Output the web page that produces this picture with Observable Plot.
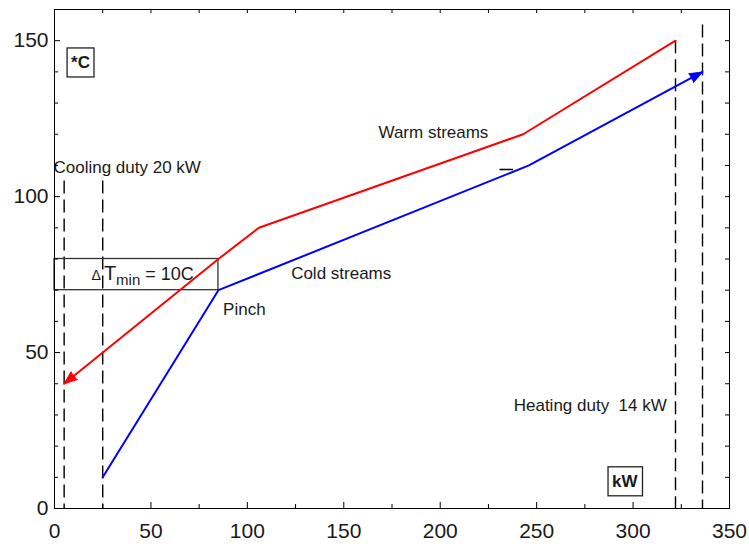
<!DOCTYPE html>
<html>
<head>
<meta charset="utf-8">
<script src="https://cdn.jsdelivr.net/npm/d3@7"></script>
<script src="https://cdn.jsdelivr.net/npm/@observablehq/plot@0.6"></script>
<style>
  body { margin: 0; background: #fff; }
  #chart svg { display: block; }
</style>
</head>
<body>
<div id="chart"></div>
<script>
// Hot composite curve (duty kW, temperature °C), drawn from the hot end down
const hotDuty = [322, 243, 106, 85, 5];
const hotTemp = [150, 120, 90, 80, 40];

// Cold composite curve (duty kW, temperature °C), drawn from the cold end up
const coldDuty = [25, 85, 246, 336];
const coldTemp = [10, 70, 110, 140];

// Pinch: index of the pinch point in each curve
const hotPinchIndex = 3;
const coldPinchIndex = 1;

// Utility boundaries (duty kW) and how far up each dashed guide reaches (°C)
const utilityDuty = [5, 25, 322, 336];
const utilityTop = [105, 105, 150, 155];

// Small leader stroke near the cold curve
const leaderX = [231, 238];
const leaderY = [108.7, 108.7];

// Tick values
const xTickLabels = [0, 50, 100, 150, 200, 250, 300, 350];
const yTickLabels = [0, 50, 100, 150];
const xTicks = d3.range(0, 351, 25);
const yTicks = d3.range(0, 161, 10);

// Label text
const warmLabel = "Warm streams";
const coldLabel = "Cold streams";
const pinchLabel = "Pinch";
const coolingLabel = `Cooling duty ${utilityDuty[1] - utilityDuty[0]} kW`;
const heatingLabel = `Heating duty  ${utilityDuty[3] - utilityDuty[2]} kW`;
const tempUnit = "*C";
const dutyUnit = "kW";

const hot = hotDuty.map((d, i) => ({duty: d, temp: hotTemp[i]}));
const cold = coldDuty.map((d, i) => ({duty: d, temp: coldTemp[i]}));
const utilities = utilityDuty.map((d, i) => ({duty: d, top: utilityTop[i]}));
const leader = [{x1: leaderX[0], x2: leaderX[1], y: leaderY[0]}];
const pinchBox = [{
  x1: 0,
  x2: hot[hotPinchIndex].duty,
  y1: cold[coldPinchIndex].temp,
  y2: hot[hotPinchIndex].temp
}];
const dTmin = hot[hotPinchIndex].temp - cold[coldPinchIndex].temp;
const dTminLabel = `ΔTmin = ${dTmin}C`;

const W = 749, H = 550;
const M = {top: 9, right: 20, bottom: 42, left: 54};
const innerW = W - M.left - M.right;
const innerH = H - M.top - M.bottom;
const FONT = "'Liberation Sans', Arial, sans-serif";
const INK = "#1a1a1a";

function tickMarks(len50, len) {
  const major = v => v % 50 === 0;
  const xs = [xTicks.filter(major), xTicks.filter(v => !major(v))];
  const ys = [yTicks.filter(major), yTicks.filter(v => !major(v))];
  const lens = [len50, len];
  const out = [];
  xs.forEach((vals, k) => {
    out.push(Plot.tickX(vals, {x: d => d, stroke: "black", insetTop: innerH - lens[k]}));
    out.push(Plot.tickX(vals, {x: d => d, stroke: "black", insetBottom: innerH - 4}));
  });
  ys.forEach((vals, k) => {
    out.push(Plot.tickY(vals, {y: d => d, stroke: "black", insetRight: innerW - lens[k]}));
    out.push(Plot.tickY(vals, {y: d => d, stroke: "black", insetLeft: innerW - 4}));
  });
  return out;
}

function build(hotAngle, coldAngle) {
  const hotEnd = hot[hot.length - 1];
  const coldEnd = cold[cold.length - 1];
  return Plot.plot({
    width: W,
    height: H,
    marginTop: M.top,
    marginRight: M.right,
    marginBottom: M.bottom,
    marginLeft: M.left,
    style: {fontFamily: FONT, color: INK, background: "#fff", overflow: "visible"},
    x: {domain: [0, 350], label: null},
    y: {domain: [0, 160], label: null},
    marks: [
      // dashed utility guides
      Plot.ruleX(utilities, {x: "duty", y1: "top", y2: 0, stroke: "black", strokeWidth: 1.4, strokeDasharray: "13,6"}),
      // ΔTmin box between the curves at the pinch
      Plot.rect(pinchBox, {x1: "x1", x2: "x2", y1: "y1", y2: "y2", fill: "none", stroke: "#333", strokeWidth: 1.3}),
      // composite curves
      Plot.line(hot, {x: "duty", y: "temp", stroke: "#ff0000", strokeWidth: 2}),
      Plot.line(cold, {x: "duty", y: "temp", stroke: "#0000ff", strokeWidth: 2}),
      Plot.vector([hotEnd], {x: "duty", y: "temp", rotate: hotAngle, length: 13, r: 5, shape: "spike", anchor: "end", fill: "#ff0000", stroke: "#ff0000", strokeWidth: 1}),
      Plot.vector([coldEnd], {x: "duty", y: "temp", rotate: coldAngle, length: 13, r: 5, shape: "spike", anchor: "end", fill: "#0000ff", stroke: "#0000ff", strokeWidth: 1}),
      Plot.ruleY(leader, {y: "y", x1: "x1", x2: "x2", stroke: "black", strokeWidth: 1.5}),
      // annotations
      Plot.text([warmLabel], {x: 168, y: 120.6, text: d => d, textAnchor: "start", fontSize: 17, fill: INK}),
      Plot.text([coldLabel], {x: 122.7, y: 75.4, text: d => d, textAnchor: "start", fontSize: 17, fill: INK}),
      Plot.text([pinchLabel], {x: 87.4, y: 63.9, text: d => d, textAnchor: "start", fontSize: 17, fill: INK}),
      Plot.text([coolingLabel], {x: 0, dx: -1, y: 109.2, text: d => d, textAnchor: "start", fontSize: 17, fill: INK}),
      Plot.text([heatingLabel], {x: 238.1, y: 32.9, text: d => d, textAnchor: "start", fontSize: 17, fill: INK}),
      Plot.text([dTminLabel], {x: 19.2, y: 75, text: d => d, textAnchor: "start", fontSize: 18, fill: INK}),
      Plot.text([tempUnit], {x: 13.5, y: 143, text: d => d, fontSize: 17, fontWeight: "bold", fill: INK}),
      Plot.text([dutyUnit], {x: 295.7, y: 8.7, text: d => d, fontSize: 17, fontWeight: "bold", fill: INK}),
      // axes and frame
      ...tickMarks(6, 4),
      Plot.axisX(xTickLabels, {tickSize: 0, tickPadding: 15, fontSize: 21, label: null, fill: INK}),
      Plot.axisY(yTickLabels, {tickSize: 0, tickPadding: 6, fontSize: 21, label: null, fill: INK}),
      Plot.frame({stroke: "black", strokeWidth: 1})
    ]
  });
}

// First pass: read the scales to orient the arrowheads along the last segment
const probe = build(0, 0);
const sx = probe.scale("x"), sy = probe.scale("y");
const X = d3.scaleLinear(sx.domain, sx.range);
const Y = d3.scaleLinear(sy.domain, sy.range);
function headingOf(pts) {
  const a = pts[pts.length - 2], b = pts[pts.length - 1];
  const dx = X(b.duty) - X(a.duty);
  const dy = Y(b.temp) - Y(a.temp);
  return Math.atan2(dx, -dy) * 180 / Math.PI;
}

const plot = build(headingOf(hot), headingOf(cold));
document.getElementById("chart").append(plot);

const svg = d3.select(plot);
const textsReading = s => svg.selectAll("text").filter(function() { return this.textContent === s; });

// ΔTmin with the subscript
textsReading(dTminLabel).each(function() {
  const t = d3.select(this);
  t.text(null);
  t.append("tspan").attr("font-size", 14).text("Δ");
  t.append("tspan").attr("dx", 3).attr("font-size", 20).text("T");
  t.append("tspan").attr("font-size", 15).attr("dy", 5).text("min");
  t.append("tspan").attr("dy", -5).text(` = ${dTmin}C`);
});

// Outline the unit labels
[tempUnit, dutyUnit].forEach(s => textsReading(s).each(function() {
  const b = this.getBBox();
  const padX = 4, padY = 6;
  d3.select(this.parentNode).insert("rect", () => this)
    .attr("transform", this.getAttribute("transform"))
    .attr("x", b.x - padX).attr("y", b.y - padY + 1)
    .attr("width", b.width + 2 * padX).attr("height", b.height + 2 * padY - 2)
    .attr("fill", "white").attr("stroke", "#222").attr("stroke-width", 1.3);
}));
</script>
</body>
</html>
